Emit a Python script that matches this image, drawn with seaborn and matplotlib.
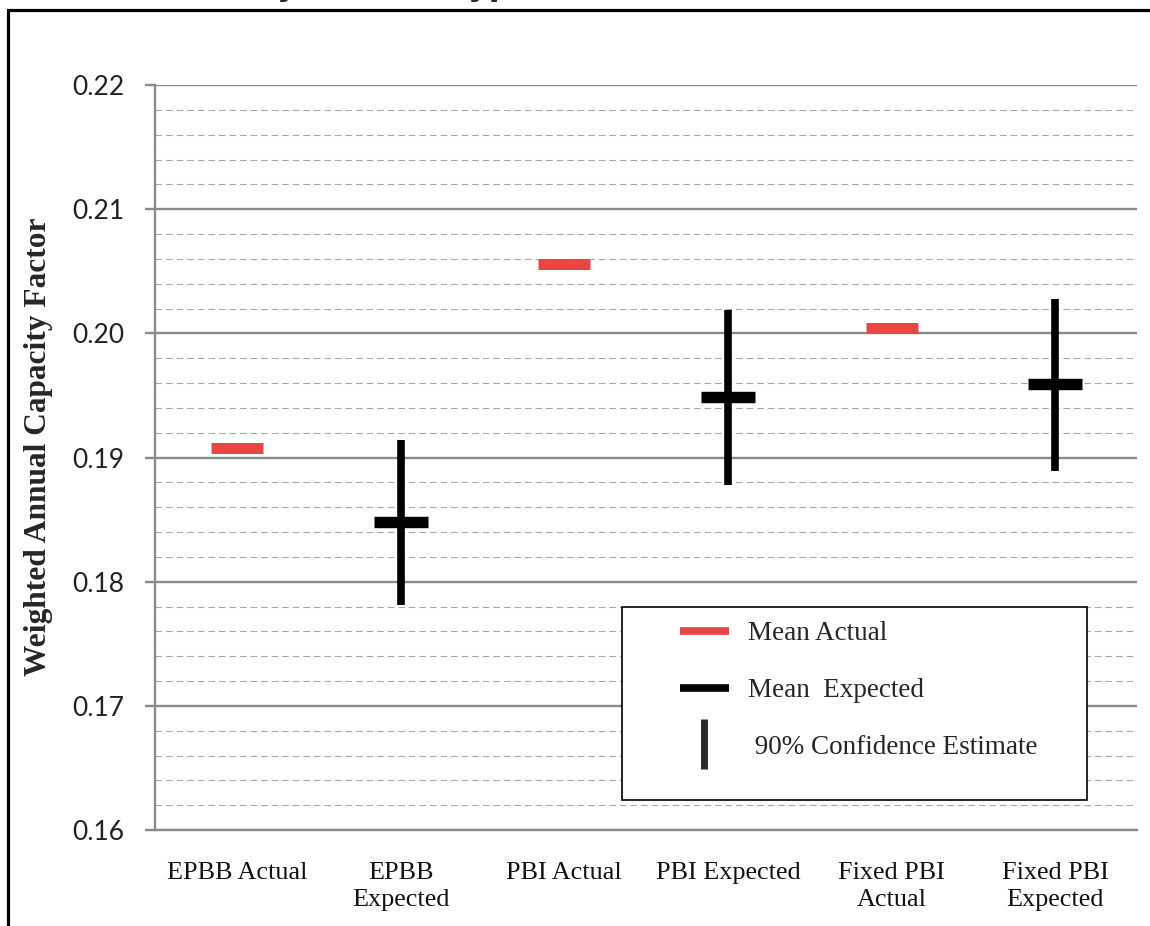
import numpy as np
import matplotlib
matplotlib.use("Agg")
import matplotlib.pyplot as plt
import seaborn as sns
from matplotlib.lines import Line2D
from matplotlib.patches import Rectangle
from matplotlib.ticker import MultipleLocator, FixedLocator

# --- data ------------------------------------------------------------------
CATEGORIES = ["EPBB Actual", "EPBB\nExpected", "PBI Actual", "PBI Expected",
              "Fixed PBI\nActual", "Fixed PBI\nExpected"]
ACTUAL_POS = [0, 2, 4]
ACTUAL_MEAN = [0.1908, 0.2056, 0.2004]
EXPECTED_POS = [1, 3, 5]
EXPECTED_MEAN = [0.1848, 0.1949, 0.1959]
CI_LOW = [0.1781, 0.1878, 0.1889]
CI_HIGH = [0.1914, 0.2019, 0.2028]
LEGEND_LABELS = ["Mean Actual", "Mean  Expected", " 90% Confidence Estimate"]
YLABEL = "Weighted Annual Capacity Factor"
TITLE = "Summary of Each Type"

RED = "#E84545"
GRID = "#8a8a8a"

sns.set_theme(style="white")
plt.rcParams["font.family"] = ["DejaVu Sans"]

fig = plt.figure(figsize=(11.5, 9.26), dpi=100)
ax = fig.add_axes([155 / 1150, 1 - 830 / 926, 982 / 1150, 745 / 926])

# grid
ax.set_ylim(0.16, 0.22)
ax.set_xlim(-0.5, 5.5)
ax.yaxis.set_major_locator(MultipleLocator(0.01))
ax.yaxis.set_minor_locator(MultipleLocator(0.002))
ax.grid(axis="y", which="major", color=GRID, lw=1.7, zorder=0)
ax.grid(axis="y", which="minor", color="#a8a8a8", lw=0.8, ls=(0, (6, 3.5)), zorder=0)
ax.set_axisbelow(True)

# CI whiskers and means
ax.vlines(EXPECTED_POS, CI_LOW, CI_HIGH, color="black", lw=5.5, zorder=3)
sns.scatterplot(x=EXPECTED_POS, y=EXPECTED_MEAN, marker="_", s=39 ** 2,
                linewidth=8.2, color="black", ax=ax, zorder=4, legend=False)
sns.scatterplot(x=ACTUAL_POS, y=ACTUAL_MEAN, marker="_", s=37.5 ** 2,
                linewidth=7.9, color=RED, ax=ax, zorder=4, legend=False)

# spines / ticks
for side in ["top", "right"]:
    ax.spines[side].set_visible(False)
for side in ["left", "bottom"]:
    ax.spines[side].set_color(GRID)
    ax.spines[side].set_linewidth(1.7)

ax.set_xticks(range(len(CATEGORIES)))
ax.set_xticklabels(CATEGORIES, fontfamily="Liberation Serif", fontsize=18.8,
                   linespacing=1.32, color="#111111")
ax.xaxis.set_minor_locator(FixedLocator(np.arange(-0.5, 6, 1)))
ax.tick_params(axis="x", which="major", length=0, pad=23)
ax.tick_params(axis="x", which="minor", length=6, width=1.4, color=GRID, direction="out")
ax.tick_params(axis="y", which="major", length=7, width=1.7, color=GRID,
               direction="out", pad=15, left=True)
ax.tick_params(axis="y", which="minor", length=0)
ax.set_yticks(np.arange(0.16, 0.2201, 0.01))
ax.set_yticklabels([f"{v:.2f}" for v in np.arange(0.16, 0.2201, 0.01)],
                   fontfamily="Lato", fontsize=19, color="#222222")

# legend box + entries
ax.add_patch(Rectangle((0.4756, 0.040), 0.4735, 0.259, transform=ax.transAxes,
                       facecolor="white", edgecolor="black", lw=1.2, zorder=5))
handles = [
    Line2D([0, 1], [0, 0], color=RED, lw=5.5, solid_capstyle="butt"),
    Line2D([0, 1], [0, 0], color="black", lw=5.5, solid_capstyle="butt"),
    Line2D([0], [0], color="#2b2b2b", marker="|", markersize=36,
           markeredgewidth=5, linestyle="None"),
]
leg = ax.legend(handles, LEGEND_LABELS, loc="upper left",
                bbox_to_anchor=(0.5346, 0.2805), frameon=False, borderpad=0,
                borderaxespad=0, handlelength=1.8, handletextpad=0.72,
                labelspacing=1.18, prop={"family": "Liberation Serif", "size": 19.5})
leg.set_zorder(6)

# y label and clipped title, outer border
fig.text(39 / 1150, 1 - 447 / 926, YLABEL, rotation=90, ha="center", va="center",
         fontfamily="Liberation Serif", fontweight="bold", fontsize=22.6)
fig.text(129 / 1150, 1 + 5 / 926, TITLE, ha="left", va="baseline",
         fontweight="bold", fontsize=22.8)
fig.patches.append(Rectangle((7.5 / 1150, -0.5), 2, (1 - 10.5 / 926) + 0.5,
                             transform=fig.transFigure, fill=False,
                             edgecolor="black", lw=2.3))

fig.savefig("out.png", dpi=100)
